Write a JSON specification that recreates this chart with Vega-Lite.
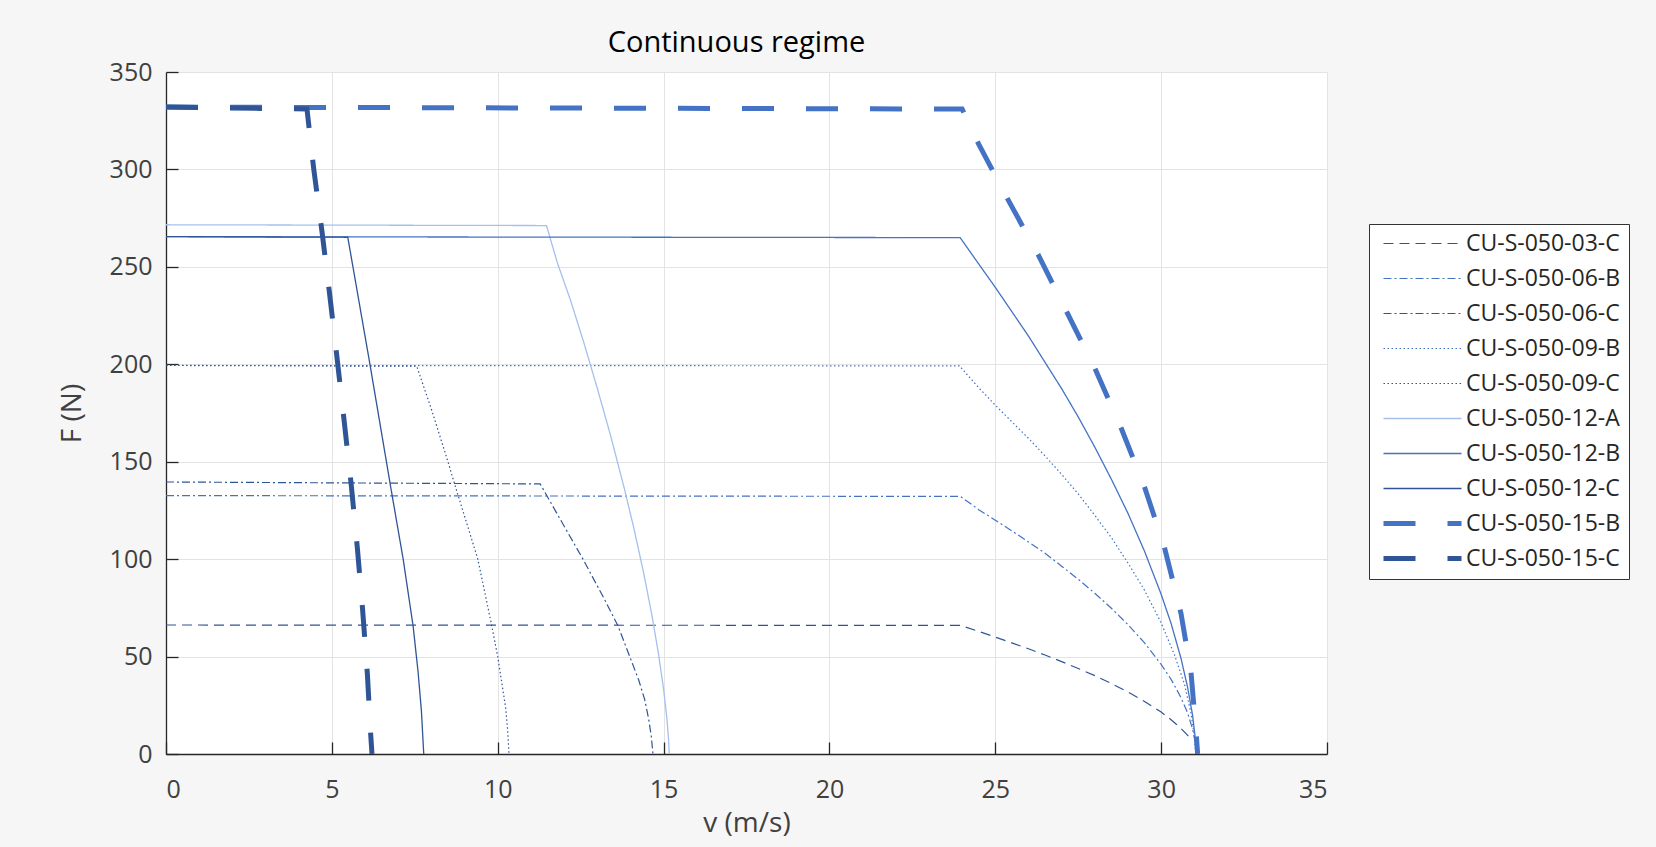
{
  "$schema": "https://vega.github.io/schema/vega-lite/v6.json",
  "width": 1161,
  "height": 682,
  "autosize": {"type": "none"},
  "padding": {"left": 166, "top": 72, "right": 329, "bottom": 93},
  "background": "#f6f6f6",
  "title": {
    "text": "Continuous regime",
    "font": "Open Sans",
    "fontSize": 29,
    "fontWeight": "normal",
    "color": "#000000",
    "anchor": "middle",
    "frame": "group",
    "offset": 2,
    "dx": -10
  },
  "config": {
    "font": "Open Sans",
    "view": {"fill": "#ffffff", "stroke": null},
    "axis": {
      "domainColor": "#262626",
      "domainWidth": 1.3,
      "tickColor": "#262626",
      "tickWidth": 1.3,
      "tickSize": -12,
      "gridColor": "#e3e3e3",
      "gridWidth": 1,
      "labelFont": "Open Sans",
      "labelFontSize": 25,
      "labelColor": "#404040",
      "titleFont": "Open Sans",
      "titleFontSize": 28,
      "titleFontWeight": "normal",
      "titleColor": "#404040"
    },
    "legend": {
      "labelFont": "Open Sans",
      "labelFontSize": 23,
      "labelColor": "#262626",
      "labelLimit": 0
    }
  },
  "data": {
    "values": [
      {"s": "CU-S-050-03-C", "o": 0, "v": 0, "F": 66.2},
      {"s": "CU-S-050-03-C", "o": 1, "v": 23.95, "F": 66},
      {"s": "CU-S-050-03-C", "o": 2, "v": 24.5, "F": 62.9},
      {"s": "CU-S-050-03-C", "o": 3, "v": 25, "F": 60},
      {"s": "CU-S-050-03-C", "o": 4, "v": 25.5, "F": 57},
      {"s": "CU-S-050-03-C", "o": 5, "v": 26, "F": 54},
      {"s": "CU-S-050-03-C", "o": 6, "v": 26.5, "F": 50.8},
      {"s": "CU-S-050-03-C", "o": 7, "v": 27, "F": 47.4},
      {"s": "CU-S-050-03-C", "o": 8, "v": 27.5, "F": 43.9},
      {"s": "CU-S-050-03-C", "o": 9, "v": 28, "F": 40.2},
      {"s": "CU-S-050-03-C", "o": 10, "v": 28.5, "F": 36.2},
      {"s": "CU-S-050-03-C", "o": 11, "v": 29, "F": 31.8},
      {"s": "CU-S-050-03-C", "o": 12, "v": 29.5, "F": 27},
      {"s": "CU-S-050-03-C", "o": 13, "v": 30, "F": 21.5},
      {"s": "CU-S-050-03-C", "o": 14, "v": 30.3, "F": 17.6},
      {"s": "CU-S-050-03-C", "o": 15, "v": 30.6, "F": 13.1},
      {"s": "CU-S-050-03-C", "o": 16, "v": 30.8, "F": 9.6},
      {"s": "CU-S-050-03-C", "o": 17, "v": 30.93, "F": 7},

      {"s": "CU-S-050-06-B", "o": 0, "v": 0, "F": 132.6},
      {"s": "CU-S-050-06-B", "o": 1, "v": 23.95, "F": 132.2},
      {"s": "CU-S-050-06-B", "o": 2, "v": 24.5, "F": 125.4},
      {"s": "CU-S-050-06-B", "o": 3, "v": 25, "F": 120},
      {"s": "CU-S-050-06-B", "o": 4, "v": 25.5, "F": 114.5},
      {"s": "CU-S-050-06-B", "o": 5, "v": 26, "F": 108.8},
      {"s": "CU-S-050-06-B", "o": 6, "v": 26.5, "F": 103},
      {"s": "CU-S-050-06-B", "o": 7, "v": 27, "F": 96.4},
      {"s": "CU-S-050-06-B", "o": 8, "v": 27.5, "F": 89.7},
      {"s": "CU-S-050-06-B", "o": 9, "v": 28, "F": 82.5},
      {"s": "CU-S-050-06-B", "o": 10, "v": 28.5, "F": 74.8},
      {"s": "CU-S-050-06-B", "o": 11, "v": 29, "F": 66.4},
      {"s": "CU-S-050-06-B", "o": 12, "v": 29.5, "F": 57},
      {"s": "CU-S-050-06-B", "o": 13, "v": 30, "F": 46},
      {"s": "CU-S-050-06-B", "o": 14, "v": 30.3, "F": 38.3},
      {"s": "CU-S-050-06-B", "o": 15, "v": 30.6, "F": 28.9},
      {"s": "CU-S-050-06-B", "o": 16, "v": 30.8, "F": 21},
      {"s": "CU-S-050-06-B", "o": 17, "v": 30.95, "F": 12.7},
      {"s": "CU-S-050-06-B", "o": 18, "v": 31.02, "F": 6.6},

      {"s": "CU-S-050-06-C", "o": 0, "v": 0, "F": 139.6},
      {"s": "CU-S-050-06-C", "o": 1, "v": 11.28, "F": 138.6},
      {"s": "CU-S-050-06-C", "o": 2, "v": 12.0, "F": 117},
      {"s": "CU-S-050-06-C", "o": 3, "v": 12.57, "F": 100},
      {"s": "CU-S-050-06-C", "o": 4, "v": 13.2, "F": 80},
      {"s": "CU-S-050-06-C", "o": 5, "v": 13.62, "F": 66},
      {"s": "CU-S-050-06-C", "o": 6, "v": 13.98, "F": 50},
      {"s": "CU-S-050-06-C", "o": 7, "v": 14.25, "F": 38},
      {"s": "CU-S-050-06-C", "o": 8, "v": 14.43, "F": 28},
      {"s": "CU-S-050-06-C", "o": 9, "v": 14.55, "F": 18},
      {"s": "CU-S-050-06-C", "o": 10, "v": 14.63, "F": 9},
      {"s": "CU-S-050-06-C", "o": 11, "v": 14.68, "F": 0},

      {"s": "CU-S-050-09-B", "o": 0, "v": 0, "F": 199.4},
      {"s": "CU-S-050-09-B", "o": 1, "v": 23.92, "F": 199.2},
      {"s": "CU-S-050-09-B", "o": 2, "v": 24.5, "F": 188},
      {"s": "CU-S-050-09-B", "o": 3, "v": 25, "F": 179},
      {"s": "CU-S-050-09-B", "o": 4, "v": 25.5, "F": 170.5},
      {"s": "CU-S-050-09-B", "o": 5, "v": 26, "F": 162},
      {"s": "CU-S-050-09-B", "o": 6, "v": 26.5, "F": 153},
      {"s": "CU-S-050-09-B", "o": 7, "v": 27, "F": 143.5},
      {"s": "CU-S-050-09-B", "o": 8, "v": 27.5, "F": 133.5},
      {"s": "CU-S-050-09-B", "o": 9, "v": 28, "F": 122.5},
      {"s": "CU-S-050-09-B", "o": 10, "v": 28.5, "F": 111},
      {"s": "CU-S-050-09-B", "o": 11, "v": 29, "F": 98},
      {"s": "CU-S-050-09-B", "o": 12, "v": 29.5, "F": 84},
      {"s": "CU-S-050-09-B", "o": 13, "v": 30, "F": 67.3},
      {"s": "CU-S-050-09-B", "o": 14, "v": 30.4, "F": 51},
      {"s": "CU-S-050-09-B", "o": 15, "v": 30.7, "F": 36},
      {"s": "CU-S-050-09-B", "o": 16, "v": 30.9, "F": 21},
      {"s": "CU-S-050-09-B", "o": 17, "v": 31.0, "F": 9.5},
      {"s": "CU-S-050-09-B", "o": 18, "v": 31.03, "F": 2},

      {"s": "CU-S-050-09-C", "o": 0, "v": 0, "F": 199.4},
      {"s": "CU-S-050-09-C", "o": 1, "v": 7.56, "F": 199},
      {"s": "CU-S-050-09-C", "o": 2, "v": 8.0, "F": 177},
      {"s": "CU-S-050-09-C", "o": 3, "v": 8.5, "F": 150},
      {"s": "CU-S-050-09-C", "o": 4, "v": 8.71, "F": 138},
      {"s": "CU-S-050-09-C", "o": 5, "v": 9.4, "F": 100},
      {"s": "CU-S-050-09-C", "o": 6, "v": 9.81, "F": 66.7},
      {"s": "CU-S-050-09-C", "o": 7, "v": 10, "F": 50},
      {"s": "CU-S-050-09-C", "o": 8, "v": 10.24, "F": 23.7},
      {"s": "CU-S-050-09-C", "o": 9, "v": 10.3, "F": 12},
      {"s": "CU-S-050-09-C", "o": 10, "v": 10.34, "F": 0},

      {"s": "CU-S-050-12-A", "o": 0, "v": 0, "F": 271.6},
      {"s": "CU-S-050-12-A", "o": 1, "v": 11.47, "F": 271.2},
      {"s": "CU-S-050-12-A", "o": 2, "v": 11.8, "F": 252},
      {"s": "CU-S-050-12-A", "o": 3, "v": 12.2, "F": 232.6},
      {"s": "CU-S-050-12-A", "o": 4, "v": 12.6, "F": 210.9},
      {"s": "CU-S-050-12-A", "o": 5, "v": 13.0, "F": 187.8},
      {"s": "CU-S-050-12-A", "o": 6, "v": 13.4, "F": 163.6},
      {"s": "CU-S-050-12-A", "o": 7, "v": 13.8, "F": 137.4},
      {"s": "CU-S-050-12-A", "o": 8, "v": 14.1, "F": 116.2},
      {"s": "CU-S-050-12-A", "o": 9, "v": 14.4, "F": 92.9},
      {"s": "CU-S-050-12-A", "o": 10, "v": 14.65, "F": 71.1},
      {"s": "CU-S-050-12-A", "o": 11, "v": 14.85, "F": 51.1},
      {"s": "CU-S-050-12-A", "o": 12, "v": 15.0, "F": 33.3},
      {"s": "CU-S-050-12-A", "o": 13, "v": 15.1, "F": 18.2},
      {"s": "CU-S-050-12-A", "o": 14, "v": 15.15, "F": 7.8},
      {"s": "CU-S-050-12-A", "o": 15, "v": 15.17, "F": 0},

      {"s": "CU-S-050-12-B", "o": 0, "v": 0, "F": 265.5},
      {"s": "CU-S-050-12-B", "o": 1, "v": 23.94, "F": 265},
      {"s": "CU-S-050-12-B", "o": 2, "v": 24.5, "F": 251.5},
      {"s": "CU-S-050-12-B", "o": 3, "v": 25, "F": 239.5},
      {"s": "CU-S-050-12-B", "o": 4, "v": 25.5, "F": 227},
      {"s": "CU-S-050-12-B", "o": 5, "v": 26, "F": 214.5},
      {"s": "CU-S-050-12-B", "o": 6, "v": 26.5, "F": 201},
      {"s": "CU-S-050-12-B", "o": 7, "v": 27, "F": 187.5},
      {"s": "CU-S-050-12-B", "o": 8, "v": 27.5, "F": 173},
      {"s": "CU-S-050-12-B", "o": 9, "v": 28, "F": 157.5},
      {"s": "CU-S-050-12-B", "o": 10, "v": 28.5, "F": 141},
      {"s": "CU-S-050-12-B", "o": 11, "v": 29, "F": 123.5},
      {"s": "CU-S-050-12-B", "o": 12, "v": 29.5, "F": 104},
      {"s": "CU-S-050-12-B", "o": 13, "v": 30, "F": 82},
      {"s": "CU-S-050-12-B", "o": 14, "v": 30.3, "F": 67},
      {"s": "CU-S-050-12-B", "o": 15, "v": 30.6, "F": 49},
      {"s": "CU-S-050-12-B", "o": 16, "v": 30.8, "F": 34},
      {"s": "CU-S-050-12-B", "o": 17, "v": 30.95, "F": 19.6},
      {"s": "CU-S-050-12-B", "o": 18, "v": 31.02, "F": 9.4},
      {"s": "CU-S-050-12-B", "o": 19, "v": 31.05, "F": 0},

      {"s": "CU-S-050-12-C", "o": 0, "v": 0, "F": 265.5},
      {"s": "CU-S-050-12-C", "o": 1, "v": 5.48, "F": 265.2},
      {"s": "CU-S-050-12-C", "o": 2, "v": 6.15, "F": 199.8},
      {"s": "CU-S-050-12-C", "o": 3, "v": 6.8, "F": 134.4},
      {"s": "CU-S-050-12-C", "o": 4, "v": 7.15, "F": 100},
      {"s": "CU-S-050-12-C", "o": 5, "v": 7.45, "F": 65.6},
      {"s": "CU-S-050-12-C", "o": 6, "v": 7.6, "F": 42},
      {"s": "CU-S-050-12-C", "o": 7, "v": 7.7, "F": 22},
      {"s": "CU-S-050-12-C", "o": 8, "v": 7.77, "F": 0},

      {"s": "CU-S-050-15-B", "o": 0, "v": 0, "F": 332},
      {"s": "CU-S-050-15-B", "o": 1, "v": 24.0, "F": 331},
      {"s": "CU-S-050-15-B", "o": 2, "v": 24.5, "F": 313},
      {"s": "CU-S-050-15-B", "o": 3, "v": 25.4, "F": 284},
      {"s": "CU-S-050-15-B", "o": 4, "v": 26.3, "F": 256},
      {"s": "CU-S-050-15-B", "o": 5, "v": 27.15, "F": 227},
      {"s": "CU-S-050-15-B", "o": 6, "v": 28.0, "F": 198},
      {"s": "CU-S-050-15-B", "o": 7, "v": 28.8, "F": 167},
      {"s": "CU-S-050-15-B", "o": 8, "v": 29.5, "F": 137},
      {"s": "CU-S-050-15-B", "o": 9, "v": 30.1, "F": 106},
      {"s": "CU-S-050-15-B", "o": 10, "v": 30.6, "F": 72},
      {"s": "CU-S-050-15-B", "o": 11, "v": 30.9, "F": 42},
      {"s": "CU-S-050-15-B", "o": 12, "v": 31.05, "F": 12},
      {"s": "CU-S-050-15-B", "o": 13, "v": 31.1, "F": 0},

      {"s": "CU-S-050-15-C", "o": 0, "v": 0, "F": 332},
      {"s": "CU-S-050-15-C", "o": 1, "v": 4.25, "F": 331},
      {"s": "CU-S-050-15-C", "o": 2, "v": 4.45, "F": 300.7},
      {"s": "CU-S-050-15-C", "o": 3, "v": 4.7, "F": 268.5},
      {"s": "CU-S-050-15-C", "o": 4, "v": 4.93, "F": 236.4},
      {"s": "CU-S-050-15-C", "o": 5, "v": 5.15, "F": 204.2},
      {"s": "CU-S-050-15-C", "o": 6, "v": 5.37, "F": 171},
      {"s": "CU-S-050-15-C", "o": 7, "v": 5.58, "F": 138.8},
      {"s": "CU-S-050-15-C", "o": 8, "v": 5.77, "F": 105.5},
      {"s": "CU-S-050-15-C", "o": 9, "v": 5.93, "F": 73.4},
      {"s": "CU-S-050-15-C", "o": 10, "v": 6.07, "F": 41.2},
      {"s": "CU-S-050-15-C", "o": 11, "v": 6.17, "F": 10.2},
      {"s": "CU-S-050-15-C", "o": 12, "v": 6.21, "F": 0}
    ]
  },
  "mark": {"type": "line", "strokeCap": "butt", "strokeJoin": "miter", "clip": true},
  "encoding": {
    "x": {
      "field": "v",
      "type": "quantitative",
      "scale": {"domain": [0, 35], "nice": false, "zero": false},
      "axis": {"title": "v (m/s)", "values": [0, 5, 10, 15, 20, 25, 30, 35], "labelPadding": 35, "titlePadding": 7}
    },
    "y": {
      "field": "F",
      "type": "quantitative",
      "scale": {"domain": [0, 350], "nice": false, "zero": false},
      "axis": {"title": "F (N)", "values": [0, 50, 100, 150, 200, 250, 300, 350], "labelPadding": 26, "titlePadding": 23}
    },
    "order": {"field": "o", "type": "quantitative"},
    "color": {
      "field": "s",
      "type": "nominal",
      "scale": {
        "domain": ["CU-S-050-03-C", "CU-S-050-06-B", "CU-S-050-06-C", "CU-S-050-09-B", "CU-S-050-09-C", "CU-S-050-12-A", "CU-S-050-12-B", "CU-S-050-12-C", "CU-S-050-15-B", "CU-S-050-15-C"],
        "range": ["#2F5597", "#4472C4", "#2F5597", "#4472C4", "#2F5597", "#A5C0EA", "#4472C4", "#2F5597", "#4472C4", "#2F5597"]
      },
      "legend": {
        "title": null,
        "orient": "none",
        "legendX": 1203,
        "legendY": 152,
        "symbolType": "M-1,0H14.6",
        "symbolSize": 100,
        "labelOffset": 66,
        "rowPadding": 11,
        "padding": 8,
        "strokeColor": "#333333",
        "fillColor": "#ffffff"
      }
    },
    "strokeDash": {
      "field": "s",
      "type": "nominal",
      "scale": {
        "domain": ["CU-S-050-03-C", "CU-S-050-06-B", "CU-S-050-06-C", "CU-S-050-09-B", "CU-S-050-09-C", "CU-S-050-12-A", "CU-S-050-12-B", "CU-S-050-12-C", "CU-S-050-15-B", "CU-S-050-15-C"],
        "range": [[10, 6], [8, 3, 2, 3], [8, 3, 2, 3], [1.5, 2.5], [1.5, 2.5], [1, 0], [1, 0], [1, 0], [32, 32], [32, 32]]
      },
      "legend": {"title": null}
    },
    "strokeWidth": {
      "field": "s",
      "type": "nominal",
      "scale": {
        "type": "ordinal",
        "domain": ["CU-S-050-03-C", "CU-S-050-06-B", "CU-S-050-06-C", "CU-S-050-09-B", "CU-S-050-09-C", "CU-S-050-12-A", "CU-S-050-12-B", "CU-S-050-12-C", "CU-S-050-15-B", "CU-S-050-15-C"],
        "range": [1.2, 1.2, 1.2, 1.2, 1.2, 1.3, 1.3, 1.3, 5, 5]
      },
      "legend": {"title": null}
    }
  }
}
